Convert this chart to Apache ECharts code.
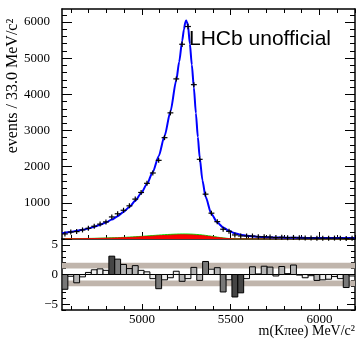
<!DOCTYPE html>
<html><head><meta charset="utf-8">
<script src="https://cdn.jsdelivr.net/npm/echarts@6/dist/echarts.min.js"></script>
<style>html,body{margin:0;padding:0;background:#fff}#c{width:357px;height:340px}</style>
</head><body><div id="c"></div>
<script>
// ---- data ----
const xMin = 4550, xMax = 6200, binWidth = 33;
const binCenters = [4566.5,4599.5,4632.5,4665.5,4698.5,4731.5,4764.5,4797.5,4830.5,4863.5,
 4896.5,4929.5,4962.5,4995.5,5028.5,5061.5,5094.5,5127.5,5160.5,5193.5,
 5226.5,5259.5,5292.5,5325.5,5358.5,5391.5,5424.5,5457.5,5490.5,5523.5,
 5556.5,5589.5,5622.5,5655.5,5688.5,5721.5,5754.5,5787.5,5820.5,5853.5,
 5886.5,5919.5,5952.5,5985.5,6018.5,6051.5,6084.5,6117.5,6150.5,6183.5];
const events = [140,192,204,251,296,353,412,473,610,697,
 795,917,1103,1287,1540,1825,2175,2802,3488,4427,
 5385,5876,4268,2203,1240,714,480,270,212,112,
 84,83,83,61,62,54,40,47,37,43,
 32,28,29,24,23,23,25,23,15,24];
const fitMass = [4550,4566.5,4599.5,4632.5,4665.5,4698.5,4731.5,4764.5,4797.5,4830.5,4863.5,
 4896.5,4929.5,4962.5,4995.5,5028.5,5061.5,5094.5,5127.5,5160.5,5193.5,
 5210,5226.5,5237,5244,5249,5254,5259.5,5270,5281,5292.5,5304,5315,5325.5,5341,5358.5,
 5391.5,5424.5,5457.5,5490.5,5523.5,5556.5,5589.5,5622.5,5655.5,5688.5,5721.5,5754.5,5787.5,5820.5,5853.5,
 5886.5,5919.5,5952.5,5985.5,6018.5,6051.5,6084.5,6117.5,6150.5,6183.5,6200];
const fitValue = [160,172,196,225,257,290,338,393,458,537,632,
 748,887,1055,1262,1522,1855,2290,2850,3520,4390,
 4900,5470,5800,5990,6040,6000,5900,5400,4820,4190,3480,2820,2250,1620,1165,
 690,455,320,225,160,118,90,72,60,52,46,42,39,36,34,
 32,31,30,29,28,27.5,27,26.5,26,25.5,25];
const redValues = [6,7,8,10,12,14,17,20,24,29,35,42,50,59,69,79,89,98,106,112,
 115,114,108,97,81,61,40,22,9,3,0,0,0,0,0,0,0,0,0,0,0,0,0,0,0,0,0,0,0,0];
const greenValues = [9,10,12,14,16,19,23,27,32,38,45,53,62,73,84,96,108,119,128,135,
 139,138,131,118,100,77,52,30,13,4,0,0,0,0,0,0,0,0,0,0,0,0,0,0,0,0,0,0,0,0];
const pulls = [-2.5,-0.3,-1.4,-0.4,0.35,0.8,0.95,0.7,3.1,2.6,
 1.7,1.0,1.5,0.7,0.45,-0.7,-2.4,-0.9,-0.55,0.55,
 -1.15,-0.7,1.2,-1.0,2.2,0.9,1.15,-2.95,-0.9,-3.8,
 -3.1,-0.7,1.3,0.1,1.4,1.25,-0.25,1.35,0.15,1.6,
 -0.1,-0.55,-0.2,-1.0,-0.9,-0.8,-0.35,-0.7,-2.2,-0.25];
const pullBands = [[1,2],[-2,-1]];
const xMajorTicks = [5000,5500,6000];
const xMinorTicks = [4600,4700,4800,4900,5100,5200,5300,5400,5600,5700,5800,5900,6100,6200];
const yMajorTicks = [0,1000,2000,3000,4000,5000,6000];
const yMinorTicks = [200,400,600,800,1200,1400,1600,1800,2200,2400,2600,2800,3200,3400,3600,3800,4200,4400,4600,4800,5200,5400,5600,5800,6200];
const yLabels = [1000,2000,3000,4000,5000,6000];
const pullMajorTicks = [-5,0,5];
const pullMinorTicks = [-6,-4,-3,-2,-1,1,2,3,4,6];
const yTitle = 'events / 33.0 MeV/c\u00B2';
const xTitle = 'm(K\u03C0ee) MeV/c\u00B2';
const tagText = 'LHCb unofficial';

// ---- chart ----
const serif = 'Liberation Serif';
const chart = echarts.init(document.getElementById('c'));
const fmt = v => (v < 0 ? '\u2212' + Math.abs(v) : String(v));
function xAx(grid, pos, ticks, len, showLine, labels){
  return {type:'value', gridIndex:grid, position:pos, min:xMin, max:xMax,
    axisLine:{show:showLine, onZero:false, lineStyle:{color:'#000', width:1.5}},
    axisTick:{show:true, inside:true, length:len, customValues:ticks, lineStyle:{color:'#000', width:1}},
    axisLabel: labels ? {show:true, customValues:labels, margin:3, color:'#000', fontFamily:serif, fontSize:13, formatter:fmt} : {show:false},
    splitLine:{show:false}, minorTick:{show:false}};
}
function yAx(grid, pos, min, max, ticks, len, showLine, labels, margin){
  return {type:'value', gridIndex:grid, position:pos, min:min, max:max,
    axisLine:{show:showLine, onZero:false, lineStyle:{color:'#000', width:1.5}},
    axisTick:{show:true, inside:true, length:len, customValues:ticks, lineStyle:{color:'#000', width:1}},
    axisLabel: labels ? {show:true, customValues:labels, margin:margin, color:'#000', fontFamily:serif, fontSize:13, formatter:fmt} : {show:false},
    splitLine:{show:false}, minorTick:{show:false}};
}
const pullColor = v => { const a = Math.abs(v); return a < 1 ? '#eeeeee' : a < 2 ? '#b4b4b4' : a < 3 ? '#787878' : '#454545'; };

const option = {
  animation:false,
  backgroundColor:'#fff',
  grid:[
    {left:62, right:2, top:9, height:230},
    {left:62, right:2, top:239, height:71}
  ],
  xAxis:[
    xAx(0,'bottom',xMinorTicks,4,true,null),
    xAx(0,'bottom',xMajorTicks,7,false,null),
    xAx(0,'top',xMinorTicks,4,true,null),
    xAx(0,'top',xMajorTicks,6,false,null),
    xAx(1,'bottom',xMinorTicks,4,true,null),
    xAx(1,'bottom',xMajorTicks,6,false,xMajorTicks)
  ],
  yAxis:[
    yAx(0,'left',0,6360,yMinorTicks,5,true,null,12),
    yAx(0,'left',0,6360,yMajorTicks,10,false,yLabels,12),
    yAx(0,'right',0,6360,yMinorTicks,5,true,null,12),
    yAx(0,'right',0,6360,yMajorTicks,10,false,null,12),
    yAx(1,'left',-6,6,pullMinorTicks,4,true,null,4),
    yAx(1,'left',-6,6,pullMajorTicks,8,false,pullMajorTicks,4),
    yAx(1,'right',-6,6,pullMinorTicks,4,true,null,4),
    yAx(1,'right',-6,6,pullMajorTicks,8,false,null,4)
  ],
  series:[
    {type:'line', xAxisIndex:0, yAxisIndex:0, data:binCenters.map((m,i)=>[m,greenValues[i]]),
      showSymbol:false, smooth:0.3, lineStyle:{color:'#00dd00', width:1}, areaStyle:{color:'#00ff00', opacity:1}, z:2, silent:true},
    {type:'line', xAxisIndex:0, yAxisIndex:0, data:binCenters.map((m,i)=>[m,redValues[i]]),
      showSymbol:false, smooth:0.3, lineStyle:{color:'#ee0000', width:1}, areaStyle:{color:'#ff0000', opacity:1}, z:3, silent:true},
    {type:'line', xAxisIndex:0, yAxisIndex:0, data:fitMass.map((m,i)=>[m,fitValue[i]]),
      showSymbol:false, smooth:0.25, smoothMonotone:'x', lineStyle:{color:'#0000ff', width:2}, z:4, silent:true},
    {type:'custom', xAxisIndex:0, yAxisIndex:0, z:5, silent:true,
      data:binCenters.map((m,i)=>[m,events[i]]),
      renderItem:function(params, api){
        const m = api.value(0), v = api.value(1);
        const c = api.coord([m, v]);
        const hw = api.size([binWidth, 0])[0] / 2;
        const e = Math.sqrt(v);
        const t = api.coord([m, v + e])[1], b = api.coord([m, v - e])[1];
        return {type:'group', children:[
          {type:'line', shape:{x1:c[0]-hw, y1:c[1], x2:c[0]+hw, y2:c[1]}, style:{stroke:'#000', lineWidth:1.2}},
          {type:'line', shape:{x1:c[0], y1:Math.min(t, c[1]-2.5), x2:c[0], y2:Math.max(b, c[1]+2.5)}, style:{stroke:'#000', lineWidth:1.2}}
        ]};
      }},
    {type:'custom', xAxisIndex:4, yAxisIndex:4, z:1, silent:true, data:pullBands,
      renderItem:function(params, api){
        const p0 = api.coord([xMin, api.value(1)]), p1 = api.coord([xMax, api.value(0)]);
        return {type:'rect', shape:{x:p0[0], y:p0[1], width:p1[0]-p0[0], height:p1[1]-p0[1]}, style:{fill:'#c0b5ac'}};
      }},
    {type:'custom', xAxisIndex:4, yAxisIndex:4, z:2, silent:true, data:[[0]],
      renderItem:function(params, api){
        const p0 = api.coord([xMin, 0]), p1 = api.coord([xMax, 0]);
        return {type:'line', shape:{x1:p0[0], y1:p0[1], x2:p1[0], y2:p1[1]}, style:{stroke:'#000', lineWidth:1}};
      }},
    {type:'custom', xAxisIndex:4, yAxisIndex:4, z:3, silent:true, clip:true,
      data:binCenters.map((m,i)=>[m,pulls[i]]),
      renderItem:function(params, api){
        const m = api.value(0), v = api.value(1);
        const p0 = api.coord([m - binWidth/2, 0]), p1 = api.coord([m + binWidth/2, v]);
        return {type:'rect', shape:{x:p0[0], y:Math.min(p0[1],p1[1]), width:p1[0]-p0[0], height:Math.abs(p1[1]-p0[1])},
          style:{fill:pullColor(v), stroke:'#000', lineWidth:1}};
      }}
  ],
  graphic:[
    {type:'text', x:13, y:86, rotation:Math.PI/2, style:{text:yTitle, fontFamily:serif, fontSize:16, fill:'#000', align:'center', verticalAlign:'middle'}},
    {type:'text', x:355, y:331, style:{text:xTitle, fontFamily:serif, fontSize:14, fill:'#000', align:'right', verticalAlign:'middle'}},
    {type:'text', x:189, y:29, style:{text:tagText, fontFamily:'Liberation Sans', fontSize:21, fill:'#000', align:'left', verticalAlign:'top'}, z:10}
  ]
};
chart.setOption(option);
</script>
</body></html>
